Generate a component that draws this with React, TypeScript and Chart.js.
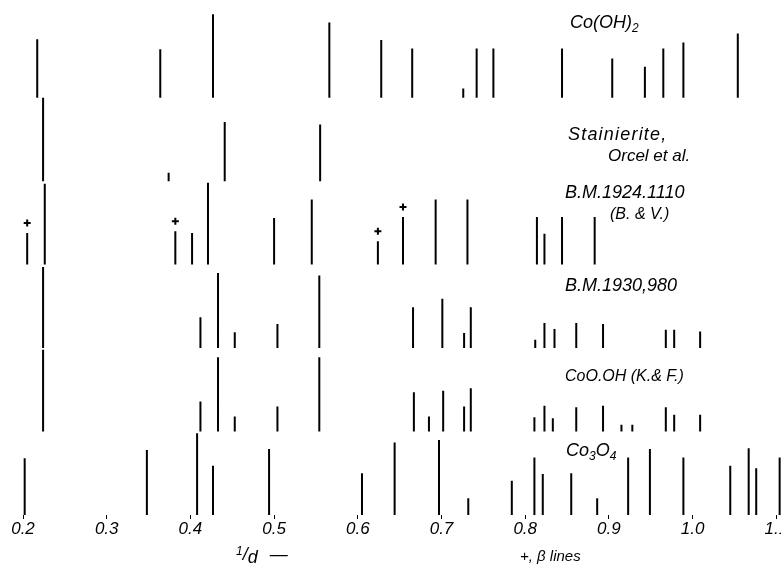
import React, { useEffect, useRef } from "react";
import { Chart, registerables } from "chart.js";
Chart.register(...registerables);

// ---- axis ticks (1/d) ----
const tickValues = [0.2, 0.3, 0.4, 0.5, 0.6, 0.7, 0.8, 0.9, 1.0, 1.1];

// ---- stick patterns: positions (1/d) and relative intensities (% of row height) ----
const coOH2Pos = [0.217, 0.364, 0.427, 0.566, 0.628, 0.665, 0.726, 0.742, 0.762, 0.844, 0.904, 0.943, 0.965, 0.989, 1.054];
const coOH2Int = [70, 58, 100, 90, 69, 59, 11, 59, 59, 59, 47, 37, 59, 66, 77];

const stainPos = [0.224, 0.374, 0.441, 0.555];
const stainInt = [100, 10, 71, 68];

const bm1924Pos = [0.205, 0.226, 0.382, 0.402, 0.421, 0.5, 0.545, 0.624, 0.654, 0.693, 0.731, 0.814, 0.823, 0.844, 0.883];
const bm1924Int = [38, 97, 40, 38, 98, 56, 78, 28, 57, 78, 78, 57, 37, 57, 57];
const bm1924Beta = [0.205, 0.382, 0.624, 0.654];

const bm1930Pos = [0.224, 0.412, 0.433, 0.453, 0.504, 0.554, 0.666, 0.701, 0.727, 0.735, 0.812, 0.823, 0.835, 0.861, 0.893, 0.968, 0.978, 1.009];
const bm1930Int = [97, 37, 90, 19, 29, 87, 49, 59, 18, 49, 10, 30, 23, 30, 29, 22, 22, 20];

const coOOHPos = [0.224, 0.412, 0.433, 0.453, 0.504, 0.554, 0.667, 0.685, 0.702, 0.727, 0.735, 0.811, 0.823, 0.833, 0.861, 0.893, 0.915, 0.928, 0.968, 0.978, 1.009];
const coOOHInt = [98, 36, 89, 18, 30, 89, 47, 18, 49, 30, 52, 17, 31, 16, 29, 31, 8, 8, 29, 20, 20];

const co3O4Pos = [0.202, 0.348, 0.408, 0.427, 0.494, 0.605, 0.644, 0.697, 0.732, 0.784, 0.811, 0.821, 0.855, 0.886, 0.923, 0.949, 0.989, 1.045, 1.067, 1.076, 1.104];
const co3O4Int = [68, 78, 98, 59, 79, 50, 87, 90, 20, 41, 69, 49, 50, 20, 69, 79, 69, 59, 80, 56, 69];

// row baselines (bottom row = 0)
const rowBases = [5, 4, 3, 2, 1, 0];

const X_MIN = 0.2 - 23 / 837;
const X_MAX = 0.2 + (781 - 23) / 837;
const ROW_PX = 83.46;
const Y_MAX = 515 / ROW_PX;
const BETA_GAP = 0.12;

function sticks(pos: number[], inten: number[], base: number) {
  const pts: { x: number; y: number | null }[] = [];
  pos.forEach((x, i) => {
    pts.push({ x, y: base });
    pts.push({ x, y: base + inten[i] / 100 });
    pts.push({ x, y: null });
  });
  return pts;
}

const FONT = "'Liberation Sans', Arial, sans-serif";
const NARROW = "'Liberation Sans Narrow', 'Liberation Sans', Arial, sans-serif";

function Label(props: { x: number; top: number; size: number; narrow?: boolean; ls?: number; children: any }) {
  return (
    <div
      style={{
        position: "absolute",
        left: props.x,
        top: props.top,
        fontSize: props.size,
        lineHeight: 1,
        fontStyle: "italic",
        fontFamily: props.narrow ? NARROW : FONT,
        letterSpacing: props.ls ?? 0,
        whiteSpace: "nowrap",
        color: "#000",
      }}
    >
      {props.children}
    </div>
  );
}

export default function App() {
  const ref = useRef<HTMLCanvasElement | null>(null);

  useEffect(() => {
    if (!ref.current) return;
    const lineDs = (data: any[]) => ({
      type: "line" as const,
      data,
      borderColor: "#000",
      borderWidth: 2,
      pointRadius: 0,
      spanGaps: false,
      tension: 0,
      fill: false,
    });
    const betaIdx = bm1924Beta.map((b) => bm1924Pos.indexOf(b));
    const chart = new Chart(ref.current, {
      type: "line",
      data: {
        datasets: [
          lineDs(sticks(coOH2Pos, coOH2Int, rowBases[0])),
          lineDs(sticks(stainPos, stainInt, rowBases[1])),
          lineDs(sticks(bm1924Pos, bm1924Int, rowBases[2])),
          lineDs(sticks(bm1930Pos, bm1930Int, rowBases[3])),
          lineDs(sticks(coOOHPos, coOOHInt, rowBases[4])),
          lineDs(sticks(co3O4Pos, co3O4Int, rowBases[5])),
          {
            type: "line",
            data: bm1924Beta.map((x, i) => ({ x, y: rowBases[2] + bm1924Int[betaIdx[i]] / 100 + BETA_GAP })),
            showLine: false,
            pointStyle: "cross",
            pointRadius: 3.5,
            borderWidth: 2,
            borderColor: "#000",
            backgroundColor: "#000",
          } as any,
        ],
      },
      options: {
        animation: false,
        responsive: true,
        maintainAspectRatio: false,
        layout: { padding: 0, autoPadding: false },
        plugins: { legend: { display: false }, tooltip: { enabled: false } },
        scales: {
          x: {
            type: "linear",
            min: X_MIN,
            max: X_MAX,
            afterBuildTicks: (axis: any) => {
              axis.ticks = tickValues.map((v) => ({ value: v }));
            },
            afterFit: (scale: any) => {
              scale.height = 54;
              scale.paddingLeft = 0;
              scale.paddingRight = 0;
            },
            border: { display: false },
            grid: { display: true, drawOnChartArea: false, drawTicks: true, tickLength: 4, color: "#000", lineWidth: 1 },
            ticks: {
              autoSkip: false,
              maxRotation: 0,
              padding: 0,
              color: "#000",
              font: { family: FONT, size: 17, style: "italic" },
              callback: (v: any) => Number(v).toFixed(1),
            },
          },
          y: { type: "linear", min: 0, max: Y_MAX, display: false },
        },
      },
    });
    return () => chart.destroy();
  }, []);

  return (
    <div style={{ position: "absolute", left: 0, top: 0, width: 781, height: 569, background: "#fff", overflow: "hidden" }}>
      <canvas ref={ref} />
      <Label x={570} top={13} size={18}>
        Co(OH)<sub style={{ fontSize: 12, verticalAlign: "-4px" }}>2</sub>
      </Label>
      <Label x={568} top={125} size={18} ls={1.2}>Stainierite,</Label>
      <Label x={608} top={147} size={17} narrow>Orcel et al.</Label>
      <Label x={565} top={183} size={18}>B.M.1924.1110</Label>
      <Label x={610} top={206} size={16} narrow>(B. &amp; V.)</Label>
      <Label x={565} top={276} size={18}>B.M.1930,980</Label>
      <Label x={565} top={368} size={16}>CoO.OH (K.&amp; F.)</Label>
      <Label x={566} top={441} size={18}>
        Co<sub style={{ fontSize: 12, verticalAlign: "-4px" }}>3</sub>O<sub style={{ fontSize: 12, verticalAlign: "-4px" }}>4</sub>
      </Label>
      <Label x={236} top={545} size={18}>
        <span style={{ fontSize: 12, verticalAlign: "5px" }}>1</span>/<span style={{ verticalAlign: "-3px" }}>d</span>
        <span style={{ marginLeft: 12 }}>—</span>
      </Label>
      <Label x={520} top={548} size={15}>+, β lines</Label>
    </div>
  );
}
